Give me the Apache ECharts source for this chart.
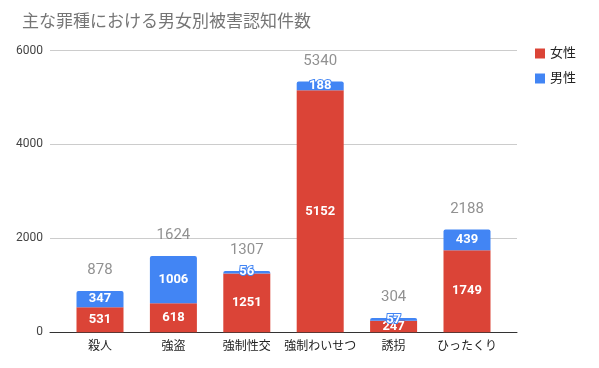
<!DOCTYPE html>
<html><head><meta charset="utf-8">
<script src="https://cdn.jsdelivr.net/npm/echarts@6/dist/echarts.min.js"></script>
<style>html,body{margin:0;padding:0;background:#fff}#c{width:599px;height:368px}</style>
</head><body><div id="c"></div>
<script>
const categories = ['殺人','強盗','強制性交','強制わいせつ','誘拐','ひったくり'];
const female = [531, 618, 1251, 5152, 247, 1749];
const male = [347, 1006, 56, 188, 57, 439];
const totals = [878, 1624, 1307, 5340, 304, 2188];
const yTicks = [0, 2000, 4000, 6000];

const font = "Roboto, 'Noto Sans CJK JP', sans-serif";
const chart = echarts.init(document.getElementById('c'));
const gTop = 50.5, gBottom = 35.7;
const red = '#DB4437', blue = '#4285F4';
chart.setOption({
  animation: false,
  textStyle: {fontFamily: font},
  title: {text: '主な罪種における男女別被害認知件数', left: 17, top: 9,
    textStyle: {fontSize: 17, fontWeight: 'normal', color: '#757575', fontFamily: font}},
  legend: {orient: 'vertical', left: 530, top: 42, itemWidth: 10, itemHeight: 10, itemGap: 12,
    icon: 'rect', textStyle: {fontSize: 13, color: '#222'}, data: ['女性','男性']},
  grid: [
    {left: 63.3, right: 95.3, top: gTop, bottom: gBottom},
    {left: 50, right: 82, top: gTop, bottom: gBottom}
  ],
  xAxis: [
    {type: 'category', gridIndex: 0, data: categories, axisLine: {show: false}, axisTick: {show: false},
      axisLabel: {color: '#222', fontSize: 12, margin: 9, interval: 0}},
    {type: 'value', gridIndex: 1, min: 0, max: 1, axisLine: {show: true, lineStyle: {color: '#333', width: 1}},
      axisTick: {show: false}, axisLabel: {show: false}, splitLine: {show: false}}
  ],
  yAxis: [
    {type: 'value', gridIndex: 0, min: 0, max: 6000, interval: 2000, show: false, splitLine: {show: false}},
    {type: 'value', gridIndex: 1, min: yTicks[0], max: yTicks[yTicks.length-1], interval: 2000,
      axisLine: {show: false}, axisTick: {show: false},
      axisLabel: {color: '#444', fontSize: 12, margin: 7, formatter: v => String(v)},
      splitLine: {lineStyle: {color: '#ccc', width: 1}}}
  ],
  series: [
    {name: '女性', type: 'bar', stack: 's', xAxisIndex: 0, yAxisIndex: 0, data: female, barWidth: 47,
      itemStyle: {color: red}, z: 3,
      label: {show: true, position: 'inside', color: '#fff', fontWeight: 'bold', fontSize: 13,
        textBorderColor: red, textBorderWidth: 2}},
    {name: '男性', type: 'bar', stack: 's', xAxisIndex: 0, yAxisIndex: 0, data: male, barWidth: 47,
      itemStyle: {color: blue, borderRadius: [2,2,0,0]}, z: 4,
      label: {show: true, position: 'inside', color: '#fff', fontWeight: 'bold', fontSize: 13,
        textBorderColor: blue, textBorderWidth: 2}},
    {name: '合計', type: 'scatter', xAxisIndex: 0, yAxisIndex: 0, data: totals, symbolSize: 0,
      label: {show: true, position: 'top', distance: 13, color: '#757575', fontSize: 15}}
  ]
});
</script></body></html>
